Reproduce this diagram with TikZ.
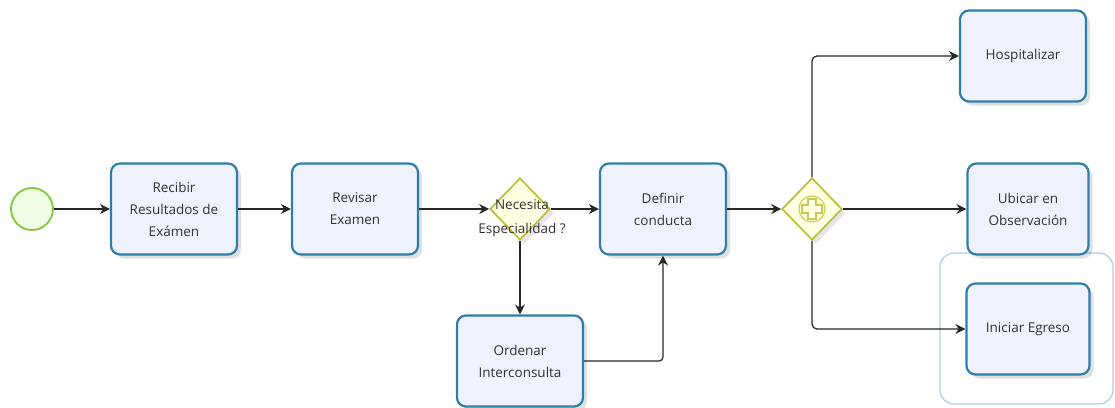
\documentclass[tikz,border=0pt]{standalone}
\usepackage{fontspec}
\setmainfont{Open Sans}
\usepackage{xcolor}
\usetikzlibrary{arrows.meta,shapes.geometric,shadows}

\definecolor{tareaazul}{HTML}{2F7EAA}
\definecolor{tareafondo}{HTML}{EEF2FC}
\definecolor{compoliva}{HTML}{B9BC2C}
\definecolor{compfondo}{HTML}{FFFFE2}
\definecolor{inicioverde}{HTML}{7DC83C}
\definecolor{iniciofondo}{HTML}{F1FCE4}
\definecolor{grupoazul}{HTML}{A9D0E0}
\definecolor{textogris}{HTML}{333333}

\tikzset{
  tarea/.style={draw=tareaazul, fill=tareafondo, line width=2.2pt, rounded corners=9pt,
    minimum width=126pt, minimum height=91pt, align=center, text=textogris,
    font=\fontsize{13.5}{22}\selectfont,
    drop shadow={shadow xshift=4pt, shadow yshift=-4pt, opacity=0.12, fill=black}},
  compuerta/.style={diamond, draw=compoliva, fill=compfondo, line width=1.6pt,
    minimum width=60pt, minimum height=62pt, inner sep=0pt,
    drop shadow={shadow xshift=4pt, shadow yshift=-4pt, opacity=0.10, fill=black}},
  flujo/.style={draw=black!85, line width=1.2pt, -{Stealth[length=10pt,width=10pt]}},
}

\begin{document}
\begin{tikzpicture}[x=1pt,y=-1pt]
\useasboundingbox (0,0) rectangle (1115,407);

% grupo de salida
\node (grp) [draw=grupoazul, line width=1.2pt, rounded corners=14pt,
  minimum width=173pt, minimum height=151pt] at (1026.5,328.5) {};

% evento de inicio
\node (ini) [circle, draw=inicioverde, fill=iniciofondo, line width=1.8pt, minimum size=42pt] at (32,209) {};

% tareas
\node (rec) [tarea] at (174,209) {Recibir\\Resultados de\\Exámen};
\node (rev) [tarea] at (355,209) {Revisar\\Examen};
\node (def) [tarea] at (663,209) {Definir\\conducta};
\node (ord) [tarea] at (520,361) {Ordenar\\Interconsulta};
\node (hos) [tarea] at (1023,56) {Hospitalizar};
\node (obs) [tarea, minimum width=121pt] at (1028,209) {Ubicar en\\Observación};
\node (egr) [tarea, minimum width=123pt] at (1028,329) {Iniciar Egreso};

% compuertas
\node (nec) [compuerta] at (520,209) {};
\node (par) [compuerta] at (812,209) {};
\node (lblnec) [align=center, text=textogris, font=\fontsize{13.5}{24}\selectfont] at (522,218) {Necesita\\Especialidad ?};
\draw[compoliva!80, line width=1.1pt] (par.center) circle (13);
\draw[compoliva!80, line width=1.1pt, shift={(par.center)}]
  (-4,-10) -- (4,-10) -- (4,-4) -- (10,-4) -- (10,4) -- (4,4) -- (4,10)
  -- (-4,10) -- (-4,4) -- (-10,4) -- (-10,-4) -- (-4,-4) -- cycle;

% flujos
\draw[flujo] (ini) -- (rec);
\draw[flujo] (rec) -- (rev);
\draw[flujo] (rev) -- (nec);
\draw[flujo] (nec) -- (def);
\draw[flujo] (nec) -- (ord);
\draw[flujo, rounded corners=4pt] (ord.east) -| (def.south);
\draw[flujo] (def) -- (par);
\draw[flujo, rounded corners=5pt] (par.north) |- (hos.west);
\draw[flujo] (par) -- (obs);
\draw[flujo, rounded corners=5pt] (par.south) |- (egr.west);
\end{tikzpicture}
\end{document}
